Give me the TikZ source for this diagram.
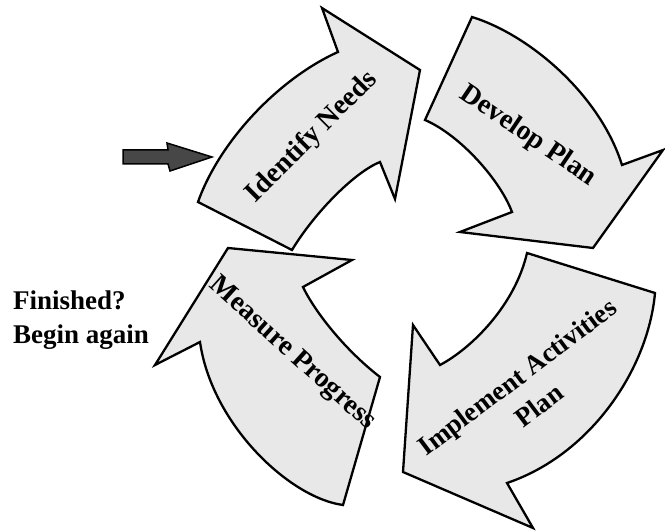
\documentclass[tikz,border=0pt]{standalone}
\usepackage{fontspec}
\setmainfont{Liberation Serif}
\begin{document}
\begin{tikzpicture}[x=1pt,y=-1pt,
  bigarrow/.style={draw=black, line width=2.3pt, fill=black!9, line join=miter},
  smallarrow/.style={draw=black, line width=1.5pt, fill=black!72, line join=miter},
  lbl/.style={font=\bfseries\fontsize{28}{36}\selectfont, inner sep=0pt, align=center},
  side/.style={font=\bfseries\fontsize{27}{34}\selectfont, inner sep=0pt, align=left}]
\useasboundingbox (0,0) rectangle (665,532);
% Identify Needs
\draw[bigarrow] (198,202) .. controls (220,140) and (280,78) .. (338,52) -- (322,8) -- (420,70) -- (395,199) -- (380,162) .. controls (355,172) and (315,212) .. (292,250) -- cycle;
% Develop Plan
\draw[bigarrow] (472,17) .. controls (530,35) and (600,95) .. (622,165) -- (663,150) -- (593,248) -- (460,232) -- (512,212) .. controls (500,180) and (460,135) .. (425,120) -- cycle;
% Implement Activities Plan
\draw[bigarrow] (655,293) .. controls (648,370) and (590,455) .. (507,483) -- (533,528) -- (403,472) -- (413,325) -- (440,365) .. controls (472,348) and (515,305) .. (527,253) -- cycle;
% Measure Progress
\draw[bigarrow] (343,505) .. controls (290,498) and (212,425) .. (200,342) -- (155,365) -- (228,248) -- (352,260) -- (303,287) .. controls (315,312) and (345,350) .. (380,377) -- cycle;
% small entry arrow
\draw[smallarrow] (123,150) -- (168,150) -- (167,143) -- (212,157) -- (170,171) -- (168,164) -- (123,164) -- cycle;
% labels
\node[lbl, rotate=45] (idn) at (312,137) {Identify Needs};
\node[lbl, rotate=-34] (dvp) at (528,136) {Develop Plan};
\node[lbl, rotate=37, font=\bfseries\fontsize{27}{36}\selectfont] (iap) at (528,391) {Implement Activities\\Plan};
\node[lbl, rotate=-42] (msp) at (292,354) {Measure Progress};
\node[side, anchor=north west] (fin) at (13,290.5) {Finished?\\Begin again};
\end{tikzpicture}
\end{document}
